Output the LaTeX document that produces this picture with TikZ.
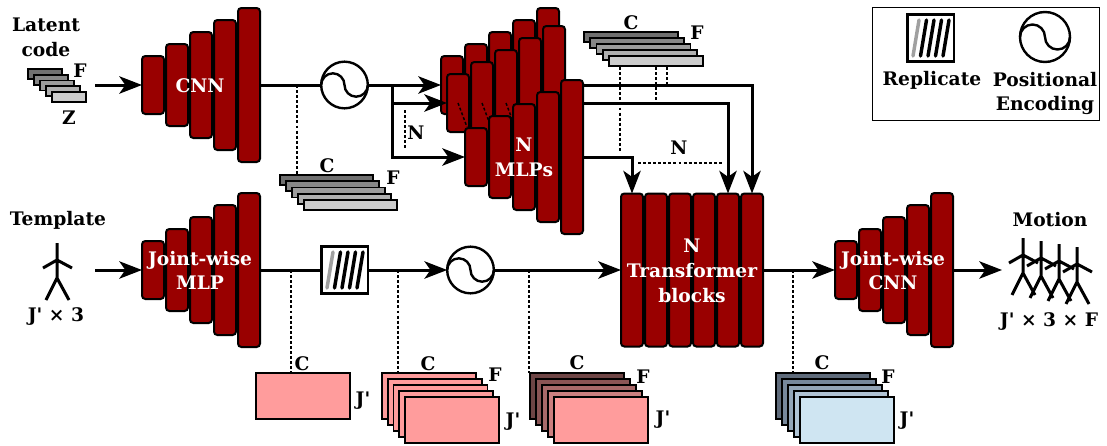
\documentclass[tikz,border=0pt]{standalone}
\usepackage{fontspec}
\newfontfamily\dvs{DejaVu Serif}
\usetikzlibrary{arrows.meta,calc}
\pgfdeclarelayer{bg}
\pgfsetlayers{bg,main}
\definecolor{bred}{HTML}{990000}
\definecolor{g0}{HTML}{707070}
\definecolor{g1}{HTML}{878787}
\definecolor{g2}{HTML}{9C9C9C}
\definecolor{g3}{HTML}{B0B0B0}
\definecolor{g4}{HTML}{CCCCCC}
\definecolor{pk0}{HTML}{FF9C9C}
\definecolor{pk1}{HTML}{FF9C9C}
\definecolor{pk2}{HTML}{FF9C9C}
\definecolor{pk3}{HTML}{FF9C9C}
\definecolor{pk4}{HTML}{FF9C9C}
\definecolor{br0}{HTML}{6E4545}
\definecolor{br1}{HTML}{8A5555}
\definecolor{br2}{HTML}{A86A6A}
\definecolor{br3}{HTML}{CC7F7F}
\definecolor{br4}{HTML}{FF9C9C}
\definecolor{bl0}{HTML}{5F6B7B}
\definecolor{bl1}{HTML}{77889B}
\definecolor{bl2}{HTML}{93A5B7}
\definecolor{bl3}{HTML}{B0C3D4}
\definecolor{bl4}{HTML}{CFE5F2}
\definecolor{stripgray}{HTML}{A0A0A0}
\tikzset{
  bar/.style={draw=black, line width=1.5pt, fill=bred, rounded corners=2.5pt, minimum width=16.5pt, inner sep=0pt, outer sep=0pt},
  lay/.style={draw=black, line width=1.3pt, anchor=north west, inner sep=0pt, outer sep=0pt},
  conn/.style={line width=2.25pt},
  arr/.style={line width=2.25pt, -{Stealth[length=17pt,width=13pt,inset=4.5pt]}},
  dots/.style={line width=1.1pt, dash pattern=on 2.2pt off 1.6pt},
  lbl/.style={inner sep=0pt, align=center},
  wlbl/.style={text=white, align=center, inner sep=0pt},
  pecirc/.style={circle, draw=black, line width=1.8pt, inner sep=0pt, outer sep=0pt, fill=white},
  peline/.style={line width=1.8pt},
  repbox/.style={draw=black, line width=2pt, minimum size=35pt, inner sep=0pt, outer sep=0pt, fill=white},
  stripe/.style={line width=2.6pt, line cap=round},
  stick/.style={line width=2.25pt},
  stickman/.pic={\draw[stick] (0,0)--(0,35) (-14,25)--(0,17)--(15,25) (-11,57)--(0,35)--(12,57);}
}
\newcommand\barstack[3]{\foreach \i in {1,...,5} \node[bar, minimum height={(58+24*(\i-1))*0.75pt}] (#1\i) at ({#2+12+24*(\i-1)},#3) {};}
\newcommand\layerstack[8]{\foreach \i in {0,...,4} \node[lay, fill=#8\i, minimum width=#6, minimum height=#7] (#1\i) at ({#2+#4*\i},{#3+#5*\i}) {};}
\newcommand\drawpe[2]{\draw[peline] (#1.west) arc[start angle=180, end angle=0, radius=#2] arc[start angle=180, end angle=360, radius=#2];}
\newcommand\drawstripes[1]{\draw[stripe, draw=stripgray] ($(#1)+(-11.5,-18)$) -- ($(#1)+(-17.5,18)$);
  \foreach \k in {1,...,4} \draw[stripe] ($(#1)+(-11.5+7.5*\k,-18)$) -- ($(#1)+(-17.5+7.5*\k,18)$);}
\begin{document}
\begin{tikzpicture}[x=0.75pt,y=-0.75pt, font=\dvs\bfseries\fontsize{14}{18.6}\selectfont]
\useasboundingbox (0,0) rectangle (1107,446);

% ---------- legend ----------
\node[draw=black, line width=1.1pt, anchor=north west, minimum width=170.25pt, minimum height=84.75pt, inner sep=0pt] (legend) at (872,7) {};
\node[repbox] (lrep) at (930.5,38) {};
\drawstripes{lrep.center}
\node[lbl] (lreptxt) at (932,80) {Replicate};
\node[pecirc, minimum size=37.5pt] (lpe) at (1045,37) {};
\drawpe{lpe}{9.375pt}
\node[lbl] (lpetxt) at (1045,93.5) {Positional\\Encoding};

% ---------- top row ----------
\node[lbl] (latent) at (46,37) {Latent\\code};
\layerstack{lat}{28}{69}{6}{5.75}{25.5pt}{7.5pt}{g}
\node[lbl] (latF) at (80,71) {F};
\node[lbl] (latZ) at (69,118) {Z};

\barstack{cnn}{141}{85}
\node[wlbl] (cnntxt) at (200,86) {CNN};
\coordinate (latsrc) at (95,85);
\draw[arr] (latsrc) -- (cnn1.west);

\node[pecirc, minimum size=35pt] (pe1) at (344.5,85) {};
\drawpe{pe1}{8.75pt}
\draw[conn] (cnn5.east) -- (pe1.west);

\coordinate (d1) at (297,85);
\layerstack{ml}{280}{175}{6}{6.25}{69.75pt}{7.5pt}{g}
\draw[dots] (d1) -- (d1 |- ml0.north);
\node[lbl] (mlC) at (327,166) {C};
\node[lbl] (mlF) at (393,178) {F};

% MLP stacks
\barstack{bk}{440}{85}
\barstack{md}{446}{103}
\foreach \k in {1,2,3} \draw[dots] (md\k.center) -- ++(9,24);
\barstack{fr}{464}{157}
\node[wlbl] (mlptxt) at (524,157.5) {N\\MLPs};

\coordinate (br) at (392,85);
\draw[arr] (pe1.east) -- (bk1.west);
\draw[arr] (br |- md1.west) -- (md1.west);
\draw[arr] (br) |- (fr1.west);
\draw[dots] (405,110) -- (405,150);
\node[lbl] (n1) at (416,133) {N};

% top right stack
\layerstack{tr}{584}{32}{6.25}{6}{70.5pt}{7.5pt}{g}
\node[lbl] (trC) at (631,23) {C};
\node[lbl] (trF) at (697,33) {F};

% transformer
\foreach \i in {1,...,6} \node[bar, minimum height=114.75pt] (tb\i) at ({620+12+24*(\i-1)},270) {};
\node[wlbl] (tbtxt) at (692,271) {N\\Transformer\\blocks};

\begin{pgfonlayer}{bg}
\draw[arr] (bk5.east) -| (tb6.north);
\draw[arr] (md5.east) -| (tb5.north);
\draw[arr] (fr5.east) -| (tb1.north);
\end{pgfonlayer}
\draw[dots] (620,67) -- (620,152);
\draw[dots] (656,67) -- (656,103);
\draw[dots] (667,67) -- (667,85);
\draw[dots] (638,163) -- (723,163);
\node[lbl] (n2) at (679,148) {N};

% ---------- bottom row ----------
\node[lbl] (tmpl) at (58,220) {Template};
\pic at (57,243) {stickman};
\node[lbl] (tdim) at (56,317) {J' × 3};
\coordinate (tmplsrc) at (95,270);
\barstack{jm}{141}{270}
\node[wlbl] (jmtxt) at (200,270.5) {Joint-wise\\MLP};
\draw[arr] (tmplsrc) -- (jm1.west);

\node[repbox] (rep) at (344.5,270) {};
\drawstripes{rep.center}
\draw[conn] (jm5.east) -- (rep.west);

\node[pecirc, minimum size=35pt] (pe2) at (470.5,270) {};
\drawpe{pe2}{8.75pt}
\draw[arr] (rep.east) -- (pe2.west);
\draw[arr] (pe2.east) -- (tb1.west);

\barstack{jc}{834}{270}
\node[wlbl] (jctxt) at (893,270.5) {Joint-wise\\CNN};
\draw[arr] (tb6.east) -- (jc1.west);
\coordinate (mout) at (1002,270);
\draw[arr] (jc5.east) -- (mout);

\node[lbl] (motion) at (1050,220) {Motion};
\foreach \m in {0,...,3} \pic at ({1023+18*\m},{238+3*\m}) {stickman};
\node[lbl] (mdim) at (1049,322) {J' × 3 × F};

% dotted taps and tensors
\coordinate (t1) at (291,270);
\coordinate (t2) at (398,270);
\coordinate (t3) at (529,270);
\coordinate (t4) at (793,270);
\node[lay, fill=pk0, minimum width=70.5pt, minimum height=34.5pt] (ps) at (256,373) {};
\draw[dots] (t1) -- (t1 |- ps.north);
\node[lbl] (psC) at (302,364) {C};
\node[lbl] (psJ) at (363,401) {J'};

\layerstack{pf}{382}{373}{5.75}{6}{70.5pt}{34.5pt}{pk}
\draw[dots] (t2) -- (t2 |- pf0.north);
\node[lbl] (pfC) at (428,364) {C};
\node[lbl] (pfF) at (495,375) {F};
\node[lbl] (pfJ) at (513,422) {J'};

\layerstack{bw}{530}{373}{6}{6}{70.5pt}{34.5pt}{br}
\draw[dots] (t3) -- (t3 |- bw0.north);
\node[lbl] (bwC) at (577,363) {C};
\node[lbl] (bwF) at (643,377) {F};
\node[lbl] (bwJ) at (663,420) {J'};

\layerstack{bu}{776}{373}{6}{6}{70.5pt}{34.5pt}{bl}
\draw[dots] (t4) -- (t4 |- bu0.north);
\node[lbl] (buC) at (822,363) {C};
\node[lbl] (buF) at (888,377) {F};
\node[lbl] (buJ) at (907,421) {J'};
\end{tikzpicture}
\end{document}
